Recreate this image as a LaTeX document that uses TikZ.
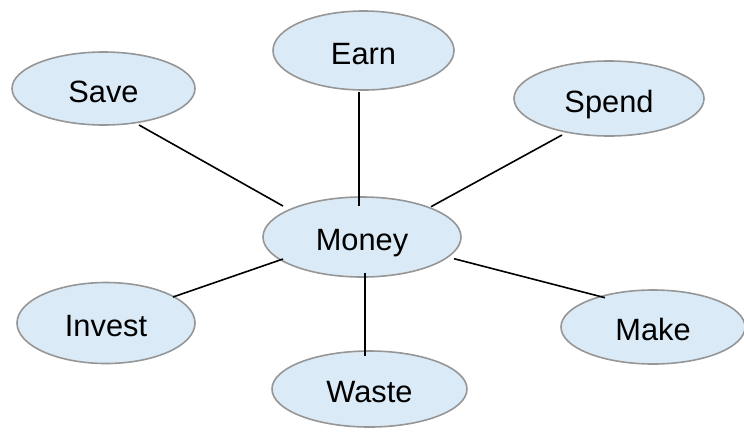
\documentclass[tikz,border=0pt]{standalone}
\usepackage{fontspec}
\setmainfont{Liberation Sans}
\usetikzlibrary{shapes.geometric,calc}
\definecolor{bubblefill}{RGB}{218,234,246}
\definecolor{bubbleline}{RGB}{150,150,150}
\tikzset{
  bubble/.style={ellipse, draw=bubbleline, line width=1.6pt, fill=bubblefill,
    inner sep=0pt, text height=27pt, text depth=0pt,
    font=\fontsize{30.8}{36}\selectfont},
  link/.style={line width=1.6pt, black}
}
\begin{document}
\begin{tikzpicture}[x=1pt,y=-1pt]
\useasboundingbox (0,0) rectangle (744,432);
% word-web bubbles
\node[bubble, minimum width=183pt, minimum height=73pt] (save)   at (103.5,88.5) {Save};
\node[bubble, minimum width=181pt, minimum height=79pt] (earn)   at (363.5,50.5) {Earn};
\node[bubble, minimum width=190pt, minimum height=75pt] (spend)  at (609,98.5)   {Spend};
\node[bubble, minimum width=198pt, minimum height=80pt] (money)  at (362,237)    {Money};
\node[bubble, minimum width=178pt, minimum height=81pt] (invest) at (106,323)    {Invest};
\node[bubble, minimum width=195pt, minimum height=76pt] (waste)  at (369.5,389)  {Waste};
\node[bubble, minimum width=184pt, minimum height=74pt] (make)   at (653,327)    {Make};
% spokes to the centre bubble
\draw[link] ($(save)+(35.5,36.5)$)   -- ($(money)+(-79,-31)$);
\draw[link] ($(earn)+(-4.5,41.5)$)   -- ($(money)+(-3,-31)$);
\draw[link] ($(spend)+(-47,36.5)$)   -- ($(money)+(69,-30.3)$);
\draw[link] ($(invest)+(67,-26)$)    -- ($(money)+(-79,22)$);
\draw[link] ($(waste)+(-4.5,-33)$)   -- ($(money)+(3,35.7)$);
\draw[link] ($(money)+(92,21.7)$)    -- ($(make)+(-48,-29.3)$);
\end{tikzpicture}
\end{document}
